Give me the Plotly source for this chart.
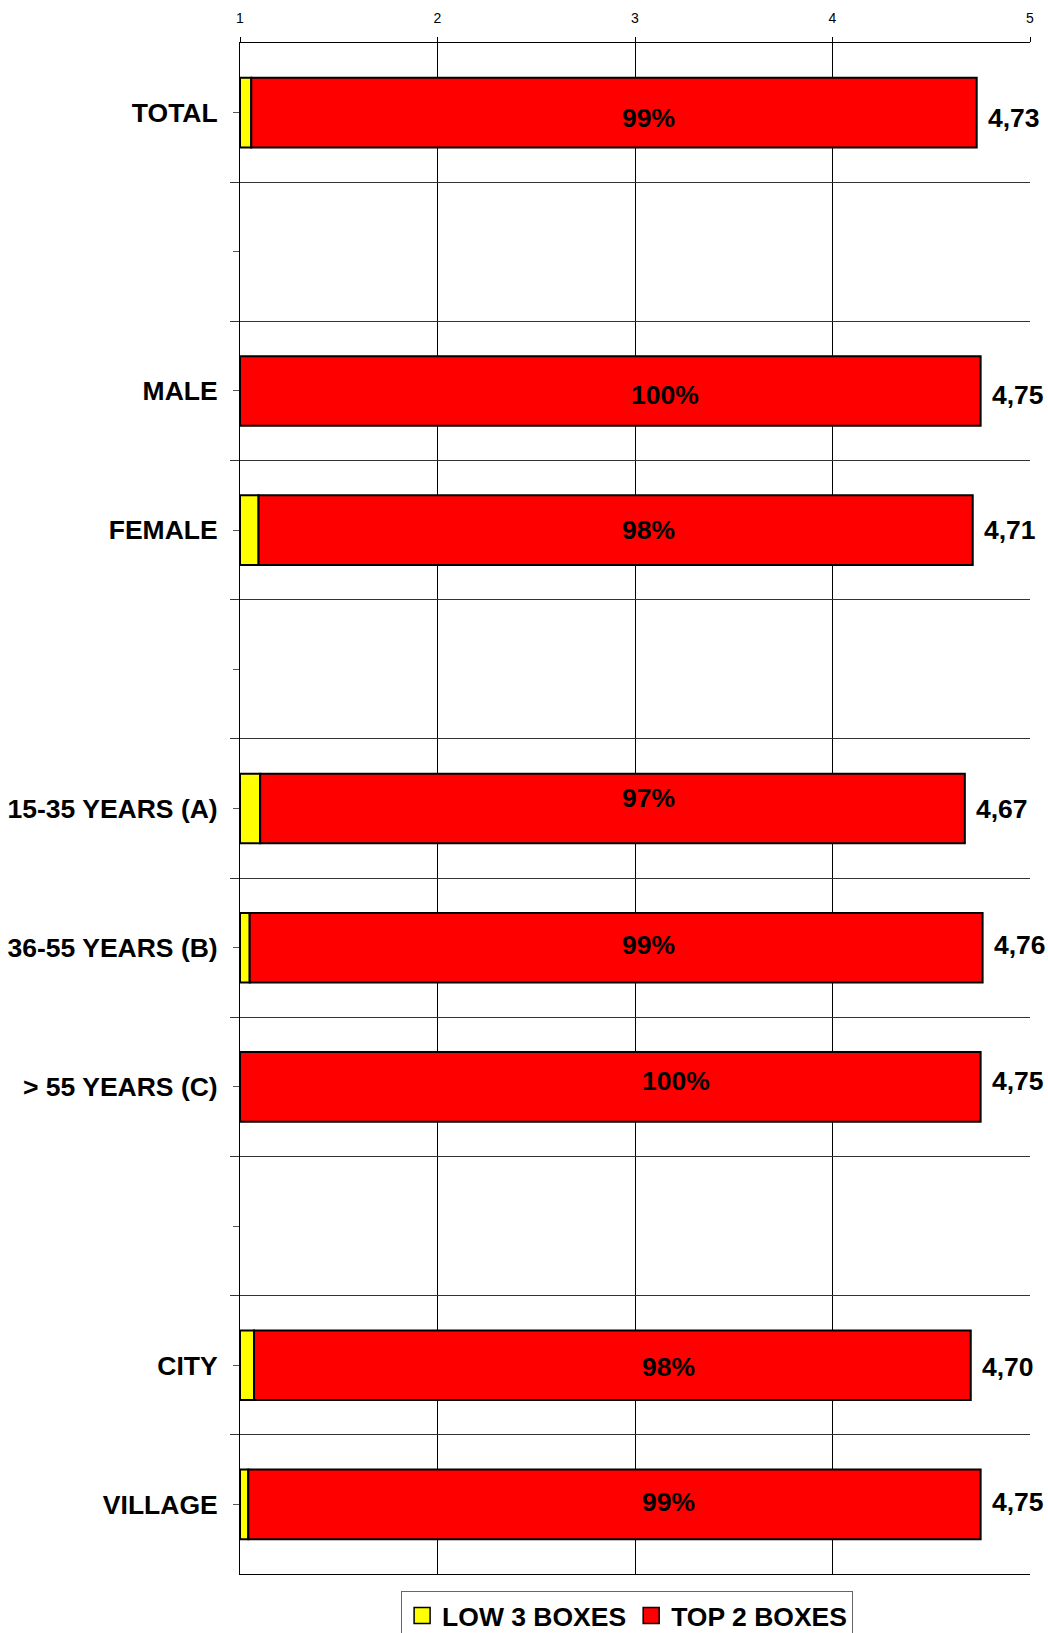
import plotly.graph_objects as go

categories = ["TOTAL", " ", "MALE", "FEMALE", "  ", "15-35 YEARS (A)", "36-55 YEARS (B)",
              "> 55 YEARS (C)", "   ", "CITY", "VILLAGE"]
means = [4.73, None, 4.75, 4.71, None, 4.67, 4.76, 4.75, None, 4.70, 4.75]
low3_len = [0.057, None, 0.0, 0.094, None, 0.102, 0.049, 0.0, None, 0.071, 0.042]
top2_pct = ["99%", None, "100%", "98%", None, "97%", "99%", "100%", None, "98%", "99%"]
value_txt = ["4,73", None, "4,75", "4,71", None, "4,67", "4,76", "4,75", None, "4,70", "4,75"]

# label placement (as the original chart had them)
pct_x = [3.07, None, 3.15, 3.07, None, 3.07, 3.07, 3.21, None, 3.17, 3.17]
pct_dy = [0.04, None, 0.03, 0.0, None, -0.075, -0.02, -0.045, None, 0.015, -0.02]

FONT = "Liberation Sans, Arial, sans-serif"
BIG = 26.5

rows = list(range(len(categories)))
idx = [i for i in rows if means[i] is not None]

yel = [low3_len[i] for i in idx]
red = [means[i] - 1 - low3_len[i] for i in idx]

fig = go.Figure()
fig.add_trace(go.Bar(
    y=idx, x=yel, base=[1] * len(idx), orientation="h", width=0.5, showlegend=False,
    name="LOW 3 BOXES", marker=dict(color="#ffff00", line=dict(color="black", width=2)),
))
fig.add_trace(go.Bar(
    y=idx, x=red, base=[1 + v for v in yel], orientation="h", width=0.5, showlegend=False,
    name="TOP 2 BOXES", marker=dict(color="#ff0000", line=dict(color="black", width=2)),
))

# legend entries with bigger square keys
for nm, col in [("LOW 3 BOXES", "#ffff00"), ("TOP 2 BOXES", "#ff0000")]:
    fig.add_trace(go.Scatter(x=[None], y=[None], mode="markers", name="<b>%s</b>" % nm,
                             marker=dict(symbol="square", size=17, color=col,
                                         line=dict(color="black", width=1.5))))

# invisible trace on second y-axis to draw category boundary lines
fig.add_trace(go.Scatter(x=[1], y=[0], yaxis="y2", mode="markers",
                         marker=dict(opacity=0), showlegend=False, hoverinfo="skip"))

for i in idx:
    fig.add_annotation(x=pct_x[i], y=i + pct_dy[i], text="<b>%s</b>" % top2_pct[i],
                       showarrow=False, font=dict(size=BIG, color="black", family=FONT))
    fig.add_annotation(x=means[i], y=i + pct_dy[i] if i != 5 else i, text="<b>%s</b>" % value_txt[i],
                       showarrow=False, xanchor="left", xshift=9,
                       font=dict(size=BIG, color="black", family=FONT))

fig.update_layout(
    width=1048, height=1633,
    margin=dict(l=240, r=18, t=43, b=59, autoexpand=False),
    paper_bgcolor="white", plot_bgcolor="white",
    barmode="overlay",
    font=dict(family=FONT, color="black"),
    xaxis=dict(side="top", range=[1, 5], tickvals=[1, 2, 3, 4, 5], ticktext=["1", "2", "3", "4", "5"],
               showgrid=True, gridcolor="black", gridwidth=1, zeroline=False, automargin=False,
               showline=True, linecolor="black", linewidth=1, mirror=True,
               ticks="outside", ticklen=5, tickcolor="black", ticklabelstandoff=8,
               tickfont=dict(size=14, family=FONT, color="black")),
    yaxis=dict(range=[10.5, -0.5], tickvals=rows, ticktext=["<b>%s</b>" % c.strip() for c in categories],
               showgrid=False, zeroline=False, showline=True, linecolor="black", linewidth=1,
               ticks="outside", ticklen=6, tickcolor="#555", ticklabelstandoff=10, automargin=False,
               tickfont=dict(size=BIG, family=FONT, color="black")),
    yaxis2=dict(range=[10.5, -0.5], overlaying="y", side="left", automargin=False,
                tickvals=[r + 0.5 for r in rows[:-1]], showticklabels=False,
                showgrid=True, gridcolor="#333", gridwidth=1, zeroline=False,
                ticks="outside", ticklen=9, tickcolor="#333"),
    legend=dict(orientation="h", x=0.49, xanchor="center", y=-0.011, yanchor="top",
                bordercolor="#666", borderwidth=1, font=dict(size=BIG, family=FONT, color="black"),
                traceorder="normal", itemwidth=30, tracegroupgap=0),
    showlegend=True,
)

fig.write_html("out.html", config={"displayModeBar": False},
               post_script="document.body.style.margin='0';document.body.style.overflow='hidden';")
